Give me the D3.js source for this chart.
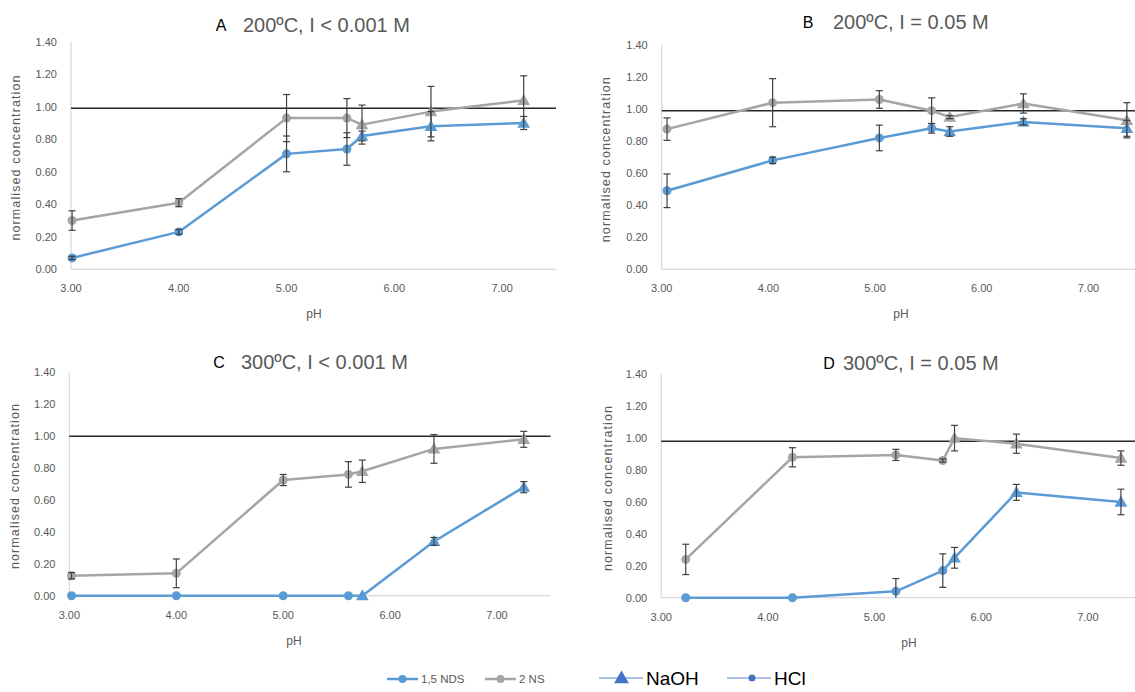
<!DOCTYPE html>
<html>
<head>
<meta charset="utf-8">
<script src="https://cdn.jsdelivr.net/npm/d3@7"></script>
<style>
    body { margin: 0; background: #fff; }
    svg text { font-family: "Liberation Sans", Arial, sans-serif; }
</style>
</head>
<body>
<div id="chart"></div>
<script>
// DATA //
// pH values per panel (shared by both series)
const phA = [3.01, 4.00, 5.00, 5.56, 5.70, 6.34, 7.20]
const phB = [3.05, 4.04, 5.04, 5.53, 5.70, 6.39, 7.36]
const phC = [3.02, 4.00, 5.00, 5.61, 5.74, 6.41, 7.25]
const phD = [3.23, 4.23, 5.20, 5.64, 5.75, 6.33, 7.31]

// how the pH was set: HCl (circle) or NaOH (triangle)
const methodAll = ["HCl", "HCl", "HCl", "HCl", "NaOH", "NaOH", "NaOH"]

// 1,5 NDS
const ndsA = [0.07, 0.23, 0.71, 0.74, 0.82, 0.88, 0.90]
const ndsAerr = [0.01, 0.015, 0.11, 0.10, 0.03, 0.09, 0.04]
const ndsB = [0.49, 0.68, 0.82, 0.88, 0.86, 0.92, 0.88]
const ndsBerr = [0.105, 0.02, 0.08, 0.03, 0.03, 0.02, 0.05]
const ndsC = [0.00, 0.00, 0.00, 0.00, 0.00, 0.34, 0.68]
const ndsCerr = [0, 0, 0, 0, 0, 0.025, 0.035]
const ndsD = [0.00, 0.00, 0.04, 0.17, 0.25, 0.66, 0.60]
const ndsDerr = [0, 0, 0.08, 0.105, 0.065, 0.05, 0.08]

// 2 NS
const nsA = [0.30, 0.41, 0.93, 0.93, 0.89, 0.97, 1.04]
const nsAerr = [0.06, 0.025, 0.145, 0.12, 0.12, 0.155, 0.15]
const nsB = [0.875, 1.04, 1.06, 0.99, 0.95, 1.035, 0.93]
const nsBerr = [0.07, 0.15, 0.055, 0.08, 0.01, 0.06, 0.11]
const nsC = [0.125, 0.14, 0.725, 0.76, 0.78, 0.92, 0.98]
const nsCerr = [0.02, 0.09, 0.035, 0.08, 0.07, 0.09, 0.05]
const nsD = [0.24, 0.88, 0.895, 0.86, 1.00, 0.965, 0.875]
const nsDerr = [0.095, 0.06, 0.035, 0.01, 0.08, 0.06, 0.045]

// reference line (normalised = 1)
const refA = 0.99
const refB = 0.99
const refC = 1.00
const refD = 0.98

const panelLetters = ["A", "B", "C", "D"]
const panelTitles = ["200ºC, I < 0.001 M", "200ºC, I = 0.05 M", "300ºC, I < 0.001 M", "300ºC, I = 0.05 M"]
const yTicks = [0, 0.2, 0.4, 0.6, 0.8, 1.0, 1.2, 1.4]
const xTicks = [3, 4, 5, 6, 7]
const seriesNames = ["1,5 NDS", "2 NS"]
const methodNames = ["NaOH", "HCl"]

// STYLE //
const blue = "#5b9bd5"
const grey = "#a5a5a5"
const textGrey = "#595959"
const axisGrey = "#d9d9d9"
const errColor = "#404040"

const svg = d3.select("#chart")
    .append("svg")
    .attr("width", 1135)
    .attr("height", 692)

// layout for each panel
const panels = [
    { ph: phA, nds: ndsA, ndsErr: ndsAerr, ns: nsA, nsErr: nsAerr, ref: refA,
      x0: 71, x1: 556, yBase: 269.3, yTop: 41.7,
      letterX: 221, titleX: 243, titleY: 25, ylabX: 16, xlabX: 314, xlabY: 318 },
    { ph: phB, nds: ndsB, ndsErr: ndsBerr, ns: nsB, nsErr: nsBerr, ref: refB,
      x0: 661.7, x1: 1141.8, yBase: 269.3, yTop: 45,
      letterX: 808, titleX: 833, titleY: 22, ylabX: 606, xlabX: 901, xlabY: 318 },
    { ph: phC, nds: ndsC, ndsErr: ndsCerr, ns: nsC, nsErr: nsCerr, ref: refC,
      x0: 69.4, x1: 550.5, yBase: 595.7, yTop: 372.3,
      letterX: 219, titleX: 241, titleY: 362, ylabX: 15, xlabX: 294, xlabY: 645 },
    { ph: phD, nds: ndsD, ndsErr: ndsDerr, ns: nsD, nsErr: nsDerr, ref: refD,
      x0: 661.2, x1: 1141.2, yBase: 597.7, yTop: 374.3,
      letterX: 829, titleX: 843, titleY: 363, ylabX: 608, xlabX: 909, xlabY: 647 },
]

const triangle = d3.symbol().type(d3.symbolTriangle).size(70)

function drawSeries(g, xScale, yScale, ph, vals, errs, color) {
    const pts = ph.map((p, i) => ({ x: p, y: vals[i], e: errs[i], m: methodAll[i] }))

    g.append("path")
        .datum(pts)
        .attr("fill", "none")
        .attr("stroke", color)
        .attr("stroke-width", 2.5)
        .attr("stroke-linejoin", "round")
        .attr("d", d3.line().x(d => xScale(d.x)).y(d => yScale(d.y)))

    pts.forEach(d => {
        const cx = xScale(d.x)
        const cy = yScale(d.y)
        if (d.m === "HCl") {
            g.append("circle")
                .attr("cx", cx).attr("cy", cy).attr("r", 4.5)
                .attr("fill", color)
        } else {
            g.append("path")
                .attr("d", triangle)
                .attr("transform", `translate(${cx},${cy + 1})`)
                .attr("fill", color)
        }
    })

    // error bars, clipped at the bottom of the axis like Excel does
    pts.filter(d => d.e > 0).forEach(d => {
        const cx = xScale(d.x)
        const top = yScale(d.y + d.e)
        const low = d.y - d.e
        const bot = yScale(Math.max(low, 0))
        g.append("line").attr("x1", cx).attr("x2", cx).attr("y1", top).attr("y2", bot)
        g.append("line").attr("x1", cx - 3.5).attr("x2", cx + 3.5).attr("y1", top).attr("y2", top)
        if (low >= 0) {
            g.append("line").attr("x1", cx - 3.5).attr("x2", cx + 3.5).attr("y1", bot).attr("y2", bot)
        }
    })
    g.selectAll("line")
        .attr("stroke", errColor)
        .attr("stroke-width", 1.2)
}

function drawPanel(p, i) {
    const xScale = d3.scaleLinear().domain([3, 7.5]).range([p.x0, p.x1])
    const yScale = d3.scaleLinear().domain([0, 1.4]).range([p.yBase, p.yTop])

    const g = svg.append("g")

    // axes lines
    g.append("line")
        .attr("x1", p.x0).attr("x2", p.x0)
        .attr("y1", p.yTop).attr("y2", p.yBase)
        .attr("stroke", axisGrey).attr("stroke-width", 1.2)
    g.append("line")
        .attr("x1", p.x0).attr("x2", p.x1)
        .attr("y1", p.yBase).attr("y2", p.yBase)
        .attr("stroke", axisGrey).attr("stroke-width", 1.2)

    // tick labels
    g.selectAll(".ytick").data(yTicks).join("text")
        .attr("x", p.x0 - 14)
        .attr("y", d => yScale(d) + 4)
        .attr("text-anchor", "end")
        .attr("font-size", 11)
        .attr("fill", textGrey)
        .text(d3.format(".2f"))
    g.selectAll(".xtick").data(xTicks).join("text")
        .attr("x", d => xScale(d))
        .attr("y", p.yBase + 23)
        .attr("text-anchor", "middle")
        .attr("font-size", 11)
        .attr("fill", textGrey)
        .text(d3.format(".2f"))

    // axis titles
    g.append("text")
        .attr("transform", `translate(${p.ylabX + 4},${(p.yBase + p.yTop) / 2 + 2}) rotate(-90)`)
        .attr("text-anchor", "middle")
        .attr("font-size", 12.5)
        .attr("letter-spacing", 1.1)
        .attr("fill", textGrey)
        .text("normalised concentration")
    g.append("text")
        .attr("x", p.xlabX)
        .attr("y", p.xlabY)
        .attr("text-anchor", "middle")
        .attr("font-size", 12)
        .attr("fill", textGrey)
        .text("pH")

    // title
    g.append("text")
        .attr("x", p.letterX)
        .attr("y", p.titleY + 6)
        .attr("text-anchor", "middle")
        .attr("font-size", 16)
        .attr("fill", "#000")
        .text(panelLetters[i])
    g.append("text")
        .attr("x", p.titleX)
        .attr("y", p.titleY + 7)
        .attr("font-size", 20)
        .attr("fill", textGrey)
        .text(panelTitles[i])

    // normalised = 1 line
    g.append("line")
        .attr("x1", p.x0).attr("x2", p.x1)
        .attr("y1", yScale(p.ref)).attr("y2", yScale(p.ref))
        .attr("stroke", "#262626").attr("stroke-width", 1.5)

    drawSeries(g.append("g"), xScale, yScale, p.ph, p.ns, p.nsErr, grey)
    drawSeries(g.append("g"), xScale, yScale, p.ph, p.nds, p.ndsErr, blue)
}

panels.forEach(drawPanel)

// LEGEND //
const legend = svg.append("g")
const legY = 683
const seriesKeys = [
    { name: seriesNames[0], color: blue, x: 387 },
    { name: seriesNames[1], color: grey, x: 485 },
]
seriesKeys.forEach(k => {
    legend.append("line")
        .attr("x1", k.x).attr("x2", k.x + 31)
        .attr("y1", legY - 4).attr("y2", legY - 4)
        .attr("stroke", k.color).attr("stroke-width", 2.5)
    legend.append("circle")
        .attr("cx", k.x + 15.5).attr("cy", legY - 4).attr("r", 4)
        .attr("fill", k.color)
    legend.append("text")
        .attr("x", k.x + 34).attr("y", legY)
        .attr("font-size", 11.5)
        .attr("fill", textGrey)
        .text(k.name)
})

const methodKeys = [
    { name: methodNames[0], x: 599, w: 44, shape: "tri" },
    { name: methodNames[1], x: 727, w: 44, shape: "circ" },
]
methodKeys.forEach(k => {
    legend.append("line")
        .attr("x1", k.x).attr("x2", k.x + k.w)
        .attr("y1", legY - 5).attr("y2", legY - 5)
        .attr("stroke", "#8faadc").attr("stroke-width", 1.5)
    if (k.shape === "tri") {
        legend.append("path")
            .attr("d", d3.symbol().type(d3.symbolTriangle).size(95))
            .attr("transform", `translate(${k.x + 22.5},${legY - 4})`)
            .attr("fill", "#4472c4")
    } else {
        legend.append("circle")
            .attr("cx", k.x + 25).attr("cy", legY - 5).attr("r", 3.5)
            .attr("fill", "#4472c4")
    }
    legend.append("text")
        .attr("x", k.x + k.w + 3).attr("y", legY + 2)
        .attr("font-size", 19)
        .attr("fill", "#000")
        .text(k.name)
})
</script>
</body>
</html>
